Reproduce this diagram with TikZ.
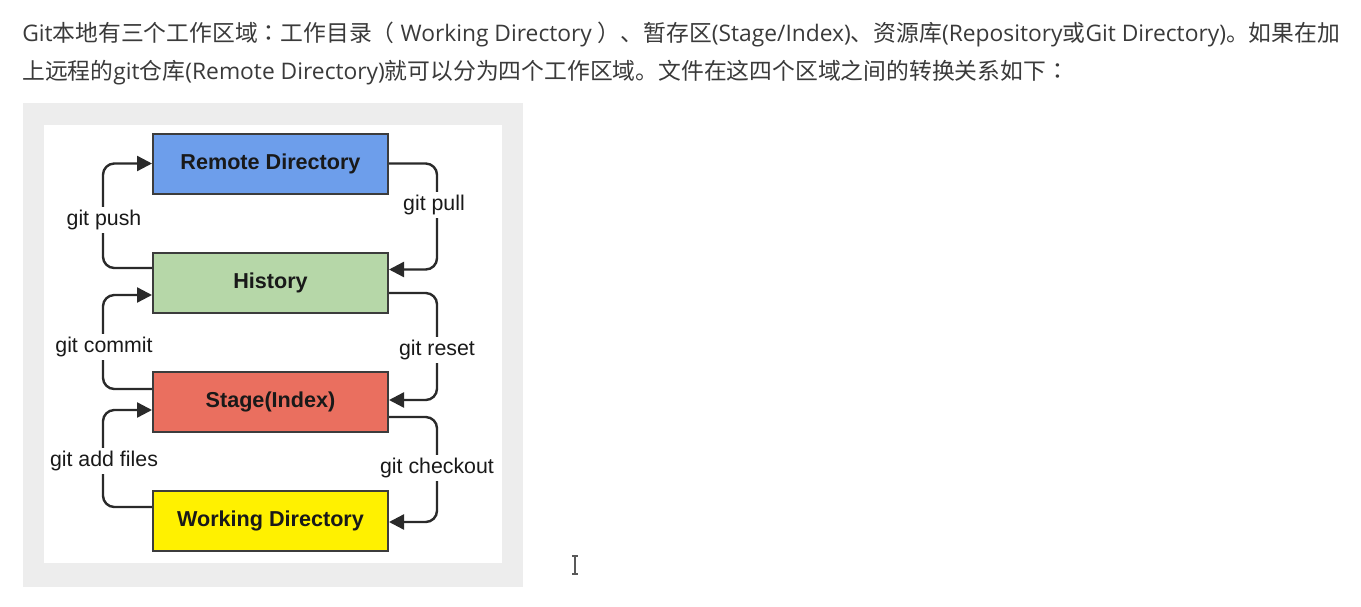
\documentclass[tikz,border=0pt]{standalone}
\usepackage{fontspec}
\setmainfont{Liberation Sans}
\newfontfamily\cjk{Noto Sans CJK SC}
\newfontfamily\cjktc{Noto Sans CJK TC}
\newfontfamily\lat{Open Sans}
\newcommand{\latrun}[1]{{\lat #1}}
\usetikzlibrary{arrows.meta}
\definecolor{bodytxt}{HTML}{3A3A3A}
\definecolor{framegrey}{HTML}{EDEDED}
\definecolor{boxline}{HTML}{3C3C3C}
\definecolor{connline}{HTML}{2A2A2A}
\definecolor{remoteblue}{HTML}{6D9EEB}
\definecolor{histgreen}{HTML}{B6D7A8}
\definecolor{stagered}{HTML}{EA6F5F}
\definecolor{workyellow}{HTML}{FFF100}
\begin{document}
\begin{tikzpicture}[x=0.75pt,y=-0.75pt,
  areabox/.style={draw=boxline,line width=1.5pt,minimum width=176.25pt,minimum height=45pt,inner sep=0pt,
    font=\bfseries\fontsize{16.2}{19}\selectfont,text=black!90},
  conn/.style={draw=connline,line width=1.8pt,rounded corners=8.5pt,-{Triangle[length=11.25pt,width=11.25pt]}},
  lbl/.style={fill=white,inner xsep=1pt,inner ysep=2pt,font=\fontsize{16}{19}\selectfont,text=black!90},
  para/.style={anchor=base west,inner sep=0pt,font=\cjk\fontsize{17.1}{20}\selectfont,text=bodytxt}]
\useasboundingbox (0,0) rectangle (1361,607);
\fill[white] (0,0) rectangle (1361,607);
% paragraph
\node[para] (l1) at (22,41) {\latrun{Git}本地有三个工作区域{\cjktc ：}工作目录（\latrun{ Working Directory }）、暂存区\latrun{(Stage/Index)}、资源库\latrun{(Repository}或\latrun{Git Directory)}。如果在加};
\node[para] (l2) at (22,79) {上远程的\latrun{git}仓库\latrun{(Remote Directory)}就可以分为四个工作区域。文件在这四个区域之间的转换关系如下{\cjktc ：}};
% frame
\fill[framegrey] (23,103) rectangle (523,587);
\fill[white] (44,125) rectangle (502,563);
% boxes
\node[areabox,fill=remoteblue] (R) at (270.5,163.5) {Remote Directory};
\node[areabox,fill=histgreen] (H) at (270.5,282.5) {History};
\node[areabox,fill=stagered] (S) at (270.5,401.5) {Stage(Index)};
\node[areabox,fill=workyellow] (W) at (270.5,520.5) {Working Directory};
% left connectors
\draw[conn] ([shift={(0,-14.5)}]H.west) -- ++(-49,0) |- (R.west);
\draw[conn] ([shift={(0,-12.5)}]S.west) -- ++(-49,0) |- ([shift={(0,12.5)}]H.west);
\draw[conn] ([shift={(0,-13.5)}]W.west) -- ++(-49,0) |- ([shift={(0,8.5)}]S.west);
% right connectors
\draw[conn] (R.east) -- ++(48,0) |- ([shift={(0,-13)}]H.east);
\draw[conn] ([shift={(0,10.5)}]H.east) -- ++(48,0) |- ([shift={(0,-1.5)}]S.east);
\draw[conn] ([shift={(0,15.5)}]S.east) -- ++(48,0) |- ([shift={(0,1.5)}]W.east);
% labels
\node[lbl] (push) at (104,220) {git push};
\node[lbl] (pull) at (434,205) {git pull};
\node[lbl] (commit) at (104,347) {git commit};
\node[lbl] (reset) at (437,350) {git reset};
\node[lbl] (add) at (104,461) {git add files};
\node[lbl] (checkout) at (437,468) {git checkout};
% text cursor
\draw[black!65,line width=1pt] (575,556) -- (575,574)
  (572,556) -- (578,556) (572,574) -- (578,574);
\end{tikzpicture}
\end{document}
